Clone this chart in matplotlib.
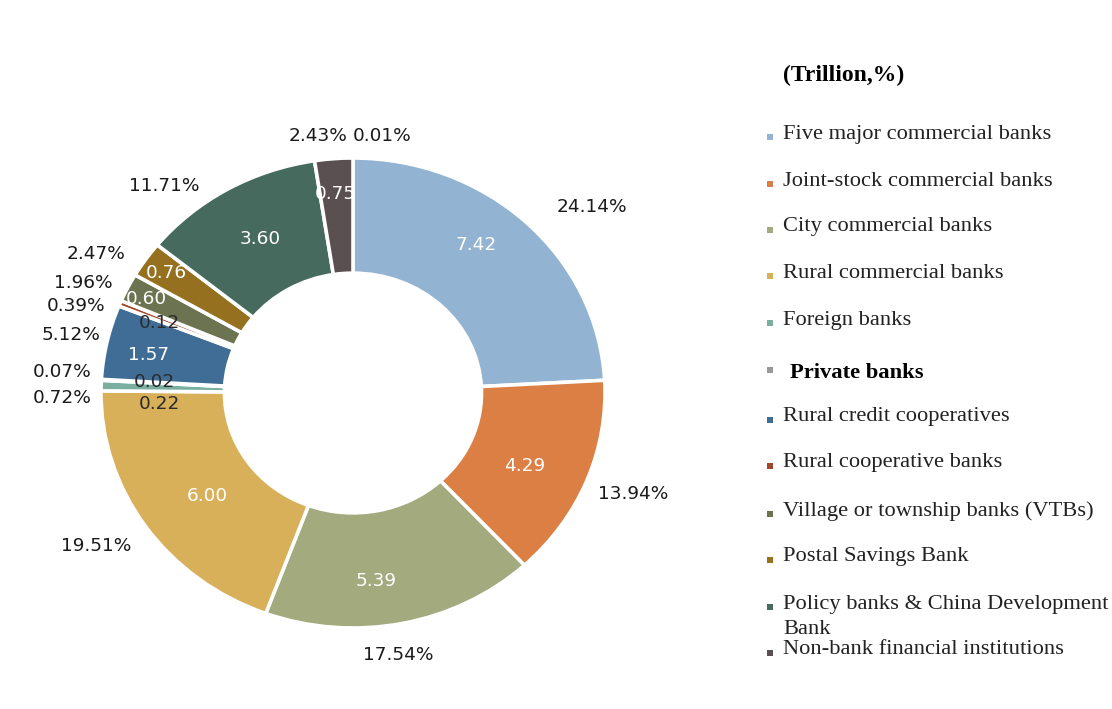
import numpy as np
import matplotlib.pyplot as plt
from matplotlib.patches import Rectangle

# data (trillion yuan) clockwise from 12 o'clock
names = [
    'Five major commercial banks',
    'Joint-stock commercial banks',
    'City commercial banks',
    'Rural commercial banks',
    'Foreign banks',
    'Private banks',
    'Rural credit cooperatives',
    'Rural cooperative banks',
    'Village or township banks (VTBs)',
    'Postal Savings Bank',
    'Policy banks & China Development\nBank',
    'Non-bank financial institutions',
]
values = [7.42, 4.29, 5.39, 6.00, 0.22, 0.02, 1.57, 0.12, 0.60, 0.76, 3.60, 0.75]
value_labels = ['7.42', '4.29', '5.39', '6.00', '0.22', '0.02', '1.57', '0.12',
                '0.60', '0.76', '3.60', '0.75']
pct_labels = ['24.14%', '13.94%', '17.54%', '19.51%', '0.72%', '0.07%', '5.12%',
              '0.39%', '1.96%', '2.47%', '11.71%', '2.43%']
extra_pct = '0.01%'

colors = ['#93b3d3', '#dc7f45', '#a3aa7e', '#d8b05a', '#7aafa0', '#9a9898',
          '#3f6d96', '#a0462a', '#6b7350', '#94701f', '#466a5e', '#5a5052']

# label layout, in donut units (outer radius = 1)
pct_pos = [(0.95, 0.79), (1.11, -0.43), (0.18, -1.115), (-1.02, -0.65),
           (-1.155, -0.02), (-1.155, 0.09), (-1.12, 0.245), (-1.10, 0.37),
           (-1.07, 0.47), (-1.02, 0.59), (-0.75, 0.88), (-0.14, 1.095)]
extra_pos = (0.115, 1.095)
val_pos = [(0.49, 0.63), (0.68, -0.31), (0.09, -0.80), (-0.58, -0.44),
           (-0.77, -0.045), (-0.79, 0.045), (-0.81, 0.16), (-0.77, 0.30),
           (-0.82, 0.40), (-0.74, 0.51), (-0.37, 0.655), (-0.07, 0.845)]
dark_vals = {'0.22', '0.02', '0.12'}

W, H = 1112, 709
fig = plt.figure(figsize=(W / 100, H / 100), dpi=100)

cx, cy, rx, ry = 353, 393, 252, 235
ax = fig.add_axes([(cx - rx) / W, (H - cy - ry) / H, 2 * rx / W, 2 * ry / H])
wedges, _ = ax.pie(values, colors=colors, startangle=90, counterclock=False,
                   radius=1.0,
                   wedgeprops=dict(width=0.49, edgecolor='white', linewidth=2.6))
ax.set_aspect('auto')
ax.set_xlim(-1, 1)
ax.set_ylim(-1, 1)
ax.axis('off')

lab_font = dict(family='DejaVu Sans', fontsize=13.3)
for (x, y), s in zip(pct_pos, pct_labels):
    ax.text(x, y, s, ha='center', va='center', color='#1a1a1a',
            clip_on=False, **lab_font)
ax.text(*extra_pos, extra_pct, ha='center', va='center', color='#1a1a1a',
        clip_on=False, **lab_font)
for (x, y), s in zip(val_pos, value_labels):
    c = '#2b2b2b' if s in dark_vals else 'white'
    ax.text(x, y, s, ha='center', va='center', color=c, clip_on=False,
            **lab_font)

# legend drawn by hand (title + square markers)
serif = 'Liberation Serif'
fig.text(783 / W, 1 - 75 / H, '(Trillion,%)', family=serif, fontsize=17,
         fontweight='bold', va='center', ha='left')
row_y = [134, 181, 227, 273, 320, 373, 417, 463, 511, 557, 604, 650]
for name, col, y in zip(names, colors, row_y):
    bold = name == 'Private banks'
    tx = 790 if bold else 783
    if '\n' in name:
        first, second = name.split('\n')
        fig.text(tx / W, 1 - y / H, first, family=serif, fontsize=16.2,
                 va='center', ha='left', color='#222222')
        fig.text(tx / W, 1 - (y + 25) / H, second, family=serif, fontsize=16.2,
                 va='center', ha='left', color='#222222')
    else:
        fig.text(tx / W, 1 - y / H, name, family=serif, fontsize=16.2,
                 va='center', ha='left',
                 fontweight='bold' if bold else 'normal',
                 color='black' if bold else '#222222')
    sq = 6.5
    my = y - 3 if bold else y + 3
    fig.patches.append(Rectangle(((770 - sq / 2) / W, (H - my - sq / 2) / H),
                                 sq / W, sq / H, transform=fig.transFigure,
                                 facecolor=col, edgecolor='none'))

fig.savefig('out.png', dpi=100)
